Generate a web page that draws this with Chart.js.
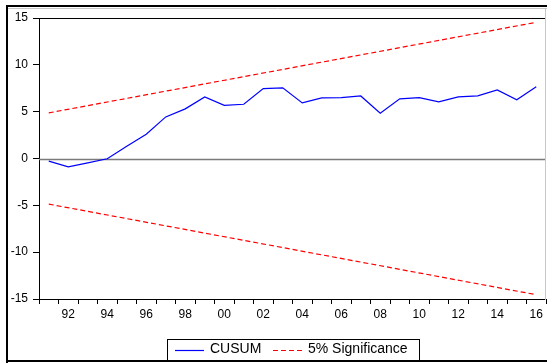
<!DOCTYPE html>
<html>
<head>
<meta charset="utf-8">
<script src="https://cdn.jsdelivr.net/npm/chart.js@4/dist/chart.umd.min.js"></script>
<style>
  html, body { margin: 0; padding: 0; background: #fff; }
  #wrap { width: 547px; height: 363px; }
</style>
</head>
<body>
<div id="wrap"><canvas id="c" width="547" height="363"></canvas></div>
<script>
// ---- data ----
const years = ['1991','1992','1993','1994','1995','1996','1997','1998','1999','2000','2001','2002','2003',
               '2004','2005','2006','2007','2008','2009','2010','2011','2012','2013','2014','2015','2016'];
const cusum = [-0.28, -0.89, -0.46, -0.03, 1.3, 2.6, 4.44, 5.3, 6.58, 5.68, 5.79, 7.47, 7.55,
               5.94, 6.47, 6.5, 6.68, 4.83, 6.37, 6.5, 6.05, 6.58, 6.68, 7.33, 6.26, 7.65];
// significance bounds: straight lines, only endpoints
const upperEnds = [4.87, 14.54];
const lowerEnds = [-4.87, -14.54];
const yTicks = [-15, -10, -5, 0, 5, 10, 15];
const seriesNames = ['CUSUM', '5% Significance'];

function endpointsSeries(ends) {
  const arr = years.map(() => null);
  arr[0] = ends[0];
  arr[arr.length - 1] = ends[1];
  return arr;
}

const FONT = "'Liberation Sans', Arial, sans-serif";

const framePlugin = {
  id: 'frame',
  beforeDatasetsDraw(chart) {
    const ctx = chart.ctx, a = chart.chartArea, y = chart.scales.y;
    ctx.save();
    // zero line
    const y0 = Math.round(y.getPixelForValue(0)) + 0.5;
    ctx.strokeStyle = '#7a7a7a';
    ctx.lineWidth = 1.5;
    ctx.beginPath();
    ctx.moveTo(a.left, y0);
    ctx.lineTo(a.right, y0);
    ctx.stroke();
    ctx.restore();
  },
  afterDraw(chart) {
    const ctx = chart.ctx, a = chart.chartArea;
    ctx.save();
    // top border of plot area
    ctx.strokeStyle = '#000';
    ctx.lineWidth = 1;
    ctx.beginPath();
    ctx.moveTo(a.left, Math.round(a.top) + 0.5);
    ctx.lineTo(a.right, Math.round(a.top) + 0.5);
    ctx.stroke();
    // right light border
    ctx.strokeStyle = '#c8c8c8';
    ctx.beginPath();
    ctx.moveTo(545.5, 8);
    ctx.lineTo(545.5, 300);
    ctx.stroke();
    // light line under top frame
    ctx.beginPath();
    ctx.moveTo(8, 8.5);
    ctx.lineTo(547, 8.5);
    ctx.stroke();
    // outer frame (thick black)
    ctx.fillStyle = '#000';
    ctx.fillRect(6, 5, 541, 2);   // top
    ctx.fillRect(6, 5, 2, 358);   // left
    ctx.fillRect(6, 360, 541, 2); // bottom

    // legend box
    const lx = 167, ly = 339, lw = 252, lh = 22;
    ctx.fillStyle = '#fff';
    ctx.fillRect(lx, ly, lw, lh - 1);
    ctx.strokeStyle = '#000';
    ctx.lineWidth = 1;
    ctx.strokeRect(lx + 0.5, ly + 0.5, lw, lh);
    const ds = chart.data.datasets;
    const yMid = 350.5;
    // CUSUM sample
    ctx.strokeStyle = ds[0].borderColor;
    ctx.lineWidth = 1.2;
    ctx.setLineDash([]);
    ctx.beginPath(); ctx.moveTo(175, yMid); ctx.lineTo(204, yMid); ctx.stroke();
    // significance sample
    ctx.strokeStyle = ds[1].borderColor;
    ctx.setLineDash(ds[1].borderDash);
    ctx.beginPath(); ctx.moveTo(273, yMid); ctx.lineTo(302, yMid); ctx.stroke();
    ctx.setLineDash([]);
    ctx.fillStyle = '#000';
    ctx.font = '14px ' + FONT;
    ctx.textBaseline = 'middle';
    ctx.textAlign = 'left';
    ctx.fillText(seriesNames[0], 210, 349);
    ctx.fillText(seriesNames[1], 308, 349);
    ctx.restore();
  }
};

new Chart(document.getElementById('c'), {
  type: 'line',
  data: {
    labels: years,
    datasets: [
      { label: seriesNames[0], data: cusum, borderColor: '#0000ff', borderWidth: 1.2,
        pointRadius: 0, tension: 0, fill: false },
      { label: seriesNames[1], data: endpointsSeries(upperEnds), borderColor: '#ff0000', borderWidth: 1.2,
        borderDash: [5, 3], pointRadius: 0, spanGaps: true, fill: false },
      { label: seriesNames[1], data: endpointsSeries(lowerEnds), borderColor: '#ff0000', borderWidth: 1.2,
        borderDash: [5, 3], pointRadius: 0, spanGaps: true, fill: false }
    ]
  },
  options: {
    responsive: false,
    animation: false,
    devicePixelRatio: 1,
    layout: { padding: { left: 0, top: 18, right: 1, bottom: 34 } },
    plugins: { legend: { display: false }, tooltip: { enabled: false } },
    scales: {
      x: {
        type: 'category',
        offset: true,
        grid: { offset: true, drawOnChartArea: false, drawTicks: true, tickLength: 5, color: '#000', lineWidth: 1 },
        border: { display: true, color: '#000', width: 1 },
        ticks: {
          autoSkip: false, maxRotation: 0, minRotation: 0, padding: 3, color: '#000',
          font: { family: FONT, size: 12 },
          callback: function(v, i) {
            const yr = parseInt(years[i], 10);
            return yr % 2 === 0 ? years[i].slice(2) : '';
          }
        },
        afterFit: function(s) { s.height = 30; }
      },
      y: {
        min: -15, max: 15,
        afterBuildTicks: function(s) { s.ticks = yTicks.map(v => ({ value: v })); },
        grid: { drawOnChartArea: false, drawTicks: true, tickLength: 6, color: '#000', lineWidth: 1 },
        border: { display: true, color: '#000', width: 1 },
        ticks: { padding: 5, color: '#000', font: { family: FONT, size: 12 } },
        afterFit: function(s) { s.width = 39; }
      }
    }
  },
  plugins: [framePlugin]
});
</script>
</body>
</html>
